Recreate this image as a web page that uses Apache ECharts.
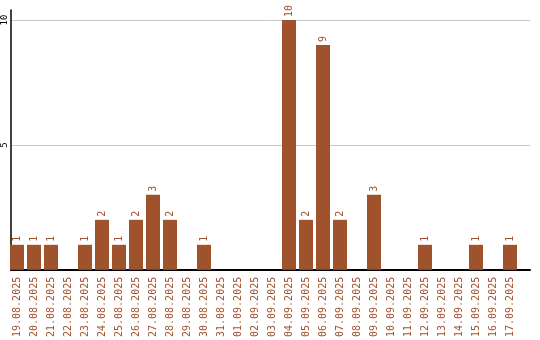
<!DOCTYPE html>
<html><head><meta charset="utf-8">
<script src="https://cdn.jsdelivr.net/npm/echarts@6/dist/echarts.min.js"></script>
<style>html,body{margin:0;padding:0;background:#fff}#c{width:540px;height:340px}</style>
</head><body><div id="c"></div>
<script>
const categories = ["19.08.2025","20.08.2025","21.08.2025","22.08.2025","23.08.2025","24.08.2025","25.08.2025","26.08.2025","27.08.2025","28.08.2025","29.08.2025","30.08.2025","31.08.2025","01.09.2025","02.09.2025","03.09.2025","04.09.2025","05.09.2025","06.09.2025","07.09.2025","08.09.2025","09.09.2025","10.09.2025","11.09.2025","12.09.2025","13.09.2025","14.09.2025","15.09.2025","16.09.2025","17.09.2025"];
const values = [1,1,1,0,1,2,1,2,3,2,0,1,0,0,0,0,10,2,9,2,0,3,0,0,1,0,0,1,0,1];
const yTicks = [0,5,10];
const color = '#a0522d';
const font = 'DejaVu Sans Mono';
const chart = echarts.init(document.getElementById('c'));
chart.setOption({
  animation: false,
  grid: [
    {left: 10, right: 10, top: 10, bottom: 70, containLabel: false},
    {left: 8.5, width: 510, top: 10, bottom: 70, containLabel: false}
  ],
  xAxis: [{
    gridIndex: 0, type: 'value', min: 0, max: 1,
    axisLine: {show: true, lineStyle: {color: '#000', width: 2}},
    axisTick: {show: false}, axisLabel: {show: false}, splitLine: {show: false}
  }, {
    gridIndex: 1, type: 'category', data: categories,
    axisLine: {show: false},
    axisTick: {show: false},
    axisLabel: {rotate: 90, interval: 0, color: color, fontFamily: font, fontSize: 10, margin: 7}
  }],
  yAxis: [{
    gridIndex: 0, type: 'value', min: 0, max: 10.4, interval: 5,
    axisLine: {show: true, lineStyle: {color: '#000', width: 1.5}},
    axisTick: {show: false},
    splitLine: {show: true, showMaxLine: false, showMinLine: false, lineStyle: {color: '#c8c8c8', width: 1}},
    axisLabel: {rotate: 90, color: '#000', fontFamily: font, fontSize: 9, margin: 2,
      formatter: v => (yTicks.includes(v) && v !== 0) ? String(v) : ''}
  }, {
    gridIndex: 1, type: 'value', min: 0, max: 10.4, show: false
  }],
  series: [{
    type: 'bar', xAxisIndex: 1, yAxisIndex: 1, data: values, barWidth: 14,
    itemStyle: {color: color},
    label: {show: true, position: 'top', rotate: 90, align: 'left', verticalAlign: 'middle', distance: 3,
      color: color, fontFamily: font, fontSize: 10,
      formatter: p => p.value ? String(p.value) : ''}
  }]
});
</script></body></html>
